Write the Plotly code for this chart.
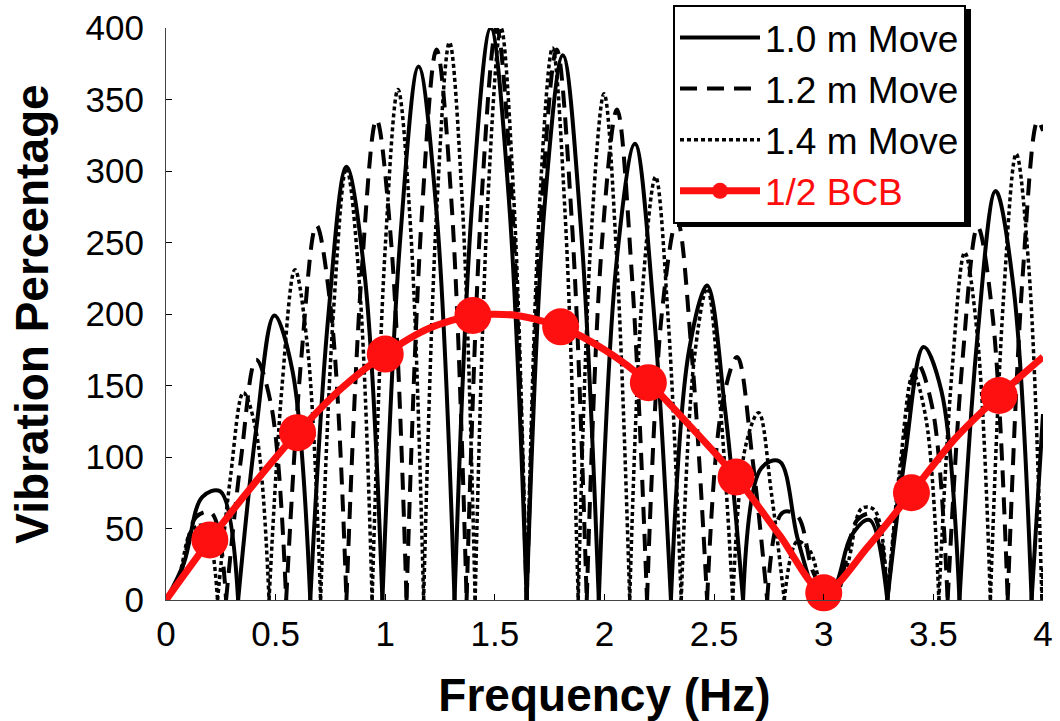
import plotly.graph_objects as go

# ---------------- data ----------------
# Each arch of the oscillating responses is listed as zero, quarter, peak, three-quarter, zero.
# None separates arches so each arch is smoothed on its own (sharp cusps at the zeros).
freq_10 = [0, .082, .165, .247, .329, None,
           .329, .411, .494, .576, .658, None,
           .658, .740, .823, .905, .987, None,
           .987, 1.069, 1.152, 1.234, 1.316, None,
           1.316, 1.398, 1.481, 1.563, 1.645, None,
           1.645, 1.727, 1.810, 1.892, 1.974, None,
           1.974, 2.056, 2.139, 2.221, 2.303, None,
           2.303, 2.385, 2.468, 2.550, 2.632, None,
           2.632, 2.714, 2.797, 2.879, 2.961, None,
           2.961, 3.043, 3.126, 3.208, 3.290, None,
           3.290, 3.372, 3.455, 3.537, 3.619, None,
           3.619, 3.701, 3.784, 3.866, 3.948, None,
           3.948, 4.0]
vib_10 = [0, 26, 72, 76, 0, None,
          0, 119, 199, 161, 0, None,
          0, 198, 303, 229, 0, None,
          0, 254, 373, 271, 0, None,
          0, 281, 400, 282, 0, None,
          0, 276, 381, 261, 0, None,
          0, 238, 319, 209, 0, None,
          0, 174, 220, 133, 0, None,
          0, 92, 97, 44, 0, None,
          0, 7, 45, 56, 0, None,
          0, 102, 177, 146, 0, None,
          0, 184, 286, 218, 0, None,
          0, 130]

freq_12 = [0, .069, .137, .206, .274, None,
           .274, .343, .411, .480, .548, None,
           .548, .617, .686, .754, .823, None,
           .823, .891, .960, 1.028, 1.097, None,
           1.097, 1.165, 1.234, 1.303, 1.371, None,
           1.371, 1.440, 1.508, 1.577, 1.645, None,
           1.645, 1.714, 1.782, 1.851, 1.919, None,
           1.919, 1.988, 2.057, 2.125, 2.194, None,
           2.194, 2.262, 2.331, 2.399, 2.468, None,
           2.468, 2.536, 2.605, 2.674, 2.742, None,
           2.742, 2.811, 2.879, 2.948, 3.016, None,
           3.016, 3.085, 3.153, 3.222, 3.290, None,
           3.290, 3.359, 3.428, 3.496, 3.565, None,
           3.565, 3.633, 3.702, 3.770, 3.839, None,
           3.839, 3.907, 3.976, 4.0]
vib_12 = [0, 20, 58, 61, 0, None,
          0, 100, 168, 136, 0, None,
          0, 169, 262, 200, 0, None,
          0, 226, 336, 248, 0, None,
          0, 265, 385, 276, 0, None,
          0, 282, 400, 282, 0, None,
          0, 277, 385, 265, 0, None,
          0, 249, 343, 227, 0, None,
          0, 201, 266, 170, 0, None,
          0, 136, 170, 100, 0, None,
          0, 61, 59, 21, 0, None,
          0, 19, 56, 60, 0, None,
          0, 98, 165, 134, 0, None,
          0, 168, 261, 199, 0, None,
          0, 226, 335, 328]

freq_14 = [0, .059, .118, .176, .235, None,
           .235, .294, .353, .411, .470, None,
           .470, .529, .588, .646, .705, None,
           .705, .764, .823, .881, .940, None,
           .940, .999, 1.058, 1.116, 1.175, None,
           1.175, 1.234, 1.293, 1.351, 1.410, None,
           1.410, 1.469, 1.528, 1.586, 1.645, None,
           1.645, 1.704, 1.763, 1.821, 1.880, None,
           1.880, 1.939, 1.998, 2.056, 2.115, None,
           2.115, 2.174, 2.233, 2.291, 2.350, None,
           2.350, 2.409, 2.468, 2.526, 2.585, None,
           2.585, 2.644, 2.703, 2.761, 2.820, None,
           2.820, 2.879, 2.938, 2.996, 3.055, None,
           3.055, 3.114, 3.173, 3.231, 3.290, None,
           3.290, 3.349, 3.408, 3.466, 3.525, None,
           3.525, 3.584, 3.643, 3.701, 3.760, None,
           3.760, 3.819, 3.878, 3.936, 3.995, None,
           3.995, 4.0]
vib_14 = [0, 17, 49, 52, 0, None,
          0, 86, 145, 118, 0, None,
          0, 149, 231, 176, 0, None,
          0, 202, 302, 224, 0, None,
          0, 244, 357, 259, 0, None,
          0, 271, 390, 279, 0, None,
          0, 283, 400, 282, 0, None,
          0, 277, 386, 268, 0, None,
          0, 255, 354, 238, 0, None,
          0, 218, 296, 195, 0, None,
          0, 168, 218, 139, 0, None,
          0, 108, 131, 75, 0, None,
          0, 41, 34, 7, 0, None,
          0, 28, 64, 63, 0, None,
          0, 95, 158, 127, 0, None,
          0, 158, 243, 184, 0, None,
          0, 209, 312, 231, 0, None,
          0, 23]

freq_bcb = [0, 0.2, 0.4, 0.6, 0.8, 1.0, 1.2, 1.4, 1.6, 1.8, 2.0,
            2.2, 2.4, 2.6, 2.8, 3.0, 3.2, 3.4, 3.6, 3.8, 4.0]
vib_bcb = [0, 42, 81, 117, 148, 172, 190, 199, 199, 191, 175,
           152, 120, 86, 45, 5, 37, 75, 113, 143, 170]
bcb_marked = [False, True, False, True, False, True, False, True, False, True, False,
              True, False, True, False, True, False, True, False, True, False]

names = ["1.0 m Move", "1.2 m Move", "1.4 m Move", "1/2 BCB"]
x_ticks = [0, 0.5, 1, 1.5, 2, 2.5, 3, 3.5, 4]
y_ticks = [0, 50, 100, 150, 200, 250, 300, 350, 400]

# ---------------- figure ----------------
FONT = "Liberation Sans, Arial, Helvetica, sans-serif"
RED = "#ff1010"
fig = go.Figure()

fig.add_trace(go.Scatter(x=freq_10, y=vib_10, name=names[0], mode="lines",
                         line=dict(color="black", width=4, shape="spline", smoothing=1),
                         connectgaps=False))
fig.add_trace(go.Scatter(x=freq_12, y=vib_12, name=names[1], mode="lines",
                         line=dict(color="black", width=4, shape="spline", smoothing=1,
                                   dash="17px,10px"),
                         connectgaps=False))
fig.add_trace(go.Scatter(x=freq_14, y=vib_14, name=names[2], mode="lines",
                         line=dict(color="black", width=3.5, shape="spline", smoothing=1,
                                   dash="4px,3px"),
                         connectgaps=False))
fig.add_trace(go.Scatter(x=freq_bcb, y=vib_bcb,
                         name='<span style="color:#ff0d0d">' + names[3] + '</span>',
                         mode="lines+markers",
                         line=dict(color=RED, width=7, shape="spline", smoothing=0.8),
                         marker=dict(color=RED, opacity=1,
                                     size=[37 if m else 0 for m in bcb_marked],
                                     line=dict(width=0)),
                         cliponaxis=False))

# drop shadow of the legend box (drawn behind the legend)
fig.add_shape(type="rect", xref="paper", yref="paper",
              x0=0.5827, x1=0.9179, y0=0.6521, y1=1.0332,
              fillcolor="black", line=dict(width=0), layer="above")

fig.update_layout(
    width=1060, height=721,
    margin=dict(l=166, r=17, t=28, b=121, autoexpand=False),
    paper_bgcolor="white", plot_bgcolor="white",
    font=dict(family=FONT, color="black", size=35),
    showlegend=True,
    legend=dict(x=0.6349, y=0.9931, xref="container", yref="container",
                xanchor="left", yanchor="top",
                bgcolor="white", bordercolor="black", borderwidth=2,
                font=dict(family=FONT, size=37, color="black"),
                itemwidth=80, tracegroupgap=0),
    xaxis=dict(range=[0, 4], tickvals=x_ticks, ticks="inside", ticklen=6,
               tickcolor="black", showline=True, linecolor="#444", linewidth=1,
               showgrid=False, zeroline=False, ticklabelstandoff=3, automargin=False,
               title=dict(text="<b>Frequency (Hz)</b>", font=dict(size=46, family=FONT),
                          standoff=30)),
    yaxis=dict(range=[0, 400], tickvals=y_ticks, ticks="inside", ticklen=6,
               tickcolor="black", showline=True, linecolor="#444", linewidth=1,
               showgrid=False, zeroline=False, ticklabelstandoff=14, automargin=False,
               title=dict(text="<b>Vibration Percentage</b>", font=dict(size=46, family=FONT),
                          standoff=22)),
)

fig.write_html("out.html")
